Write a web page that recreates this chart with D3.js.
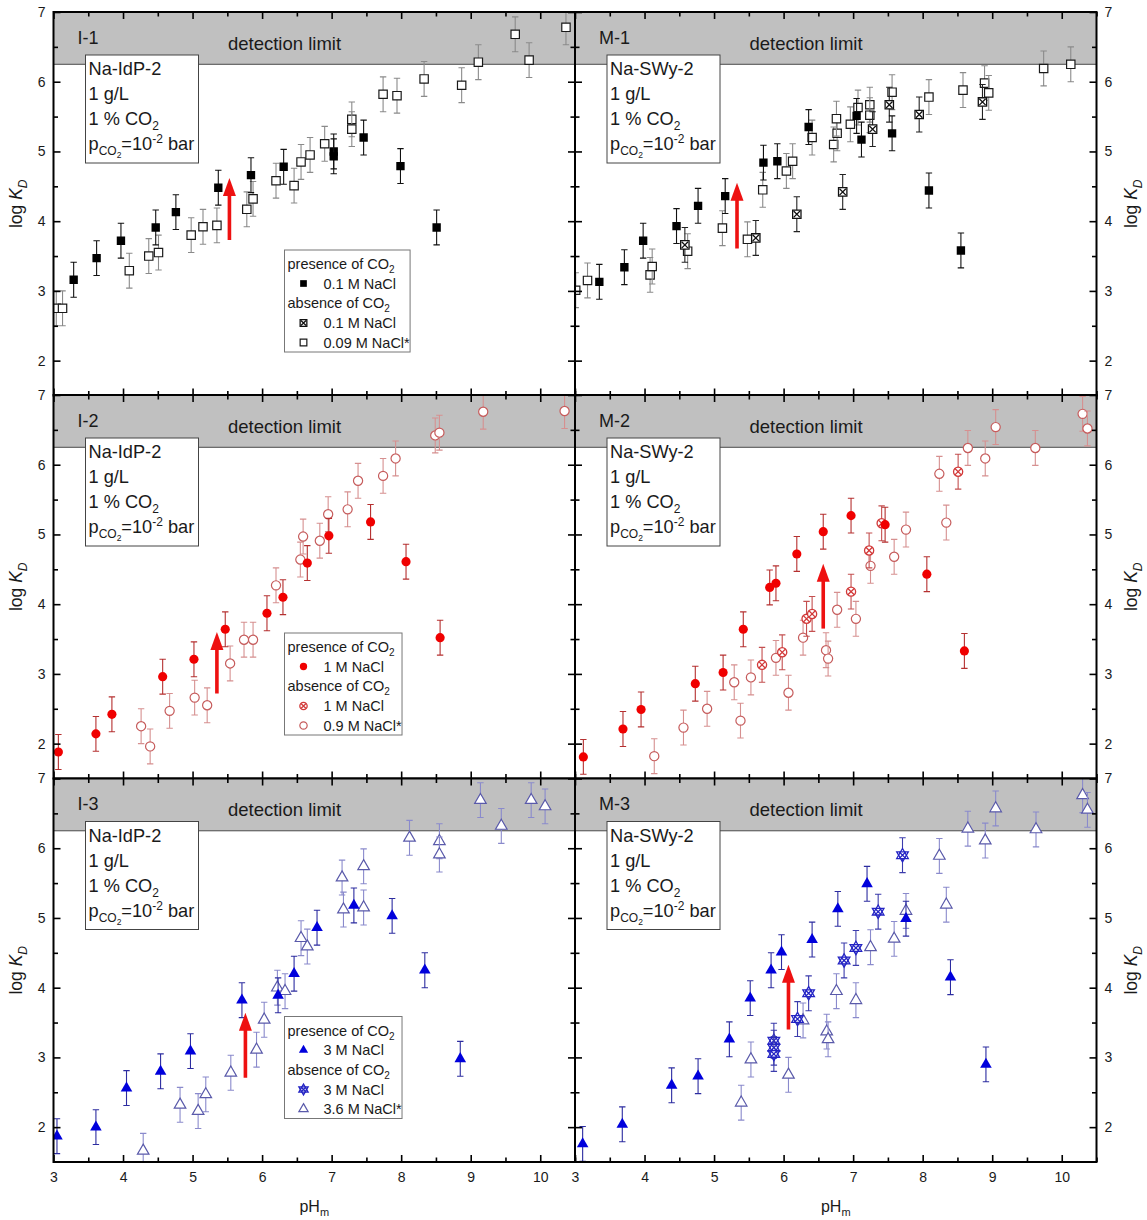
<!DOCTYPE html>
<html>
<head>
<meta charset="utf-8">
<script src="https://cdn.jsdelivr.net/npm/d3@7"></script>
<style>
  body { margin: 0; background: #fff; }
  svg { font-family: "Liberation Sans", Arial, sans-serif; }
</style>
</head>
<body>
<svg id="chart" width="1147" height="1220"></svg>
<script>
// [pH_m, log K_D]
// pres = presence of CO2, abs = absence of CO2 (same NaCl), absStar = absence of CO2 (NaCl*)
const i1Pres = [[3.29,3.16],[3.62,3.47],[3.97,3.72],[4.47,3.91],[4.76,4.13],[5.37,4.48],[5.84,4.66],[6.31,4.78],[7.03,5.0],[7.03,4.93],[7.46,5.20],[7.99,4.79],[8.51,3.91]];
const i1Abs = [];
const i1AbsStar = [[3.04,2.75],[3.13,2.75],[4.09,3.29],[4.37,3.50],[4.51,3.55],[4.98,3.80],[5.15,3.92],[5.35,3.94],[5.78,4.17],[5.87,4.32],[6.20,4.58],[6.46,4.51],[6.56,4.85],[6.69,4.95],[6.90,5.11],[7.29,5.46],[7.29,5.32],[7.74,5.82],[7.94,5.80],[8.33,6.04],[8.87,5.95],[9.11,6.28],[9.64,6.68],[9.84,6.31],[10.37,6.78]];

const m1Pres = [[3.35,3.13],[3.71,3.34],[3.98,3.72],[4.46,3.93],[4.77,4.22],[5.16,4.36],[5.71,4.84],[5.91,4.86],[6.36,5.35],[7.05,5.51],[7.12,5.17],[7.56,5.26],[8.09,4.44],[8.55,3.58]];
const m1Abs = [[4.58,3.66],[5.60,3.76],[6.19,4.10],[6.85,4.42],[7.28,5.32],[7.52,5.67],[7.95,5.53],[8.86,5.71]];
const m1AbsStar = [[3.01,3.01],[3.18,3.15],[4.08,3.23],[4.11,3.35],[4.62,3.57],[5.12,3.90],[5.48,3.74],[5.70,4.45],[6.04,4.72],[6.13,4.86],[6.41,5.20],[6.72,5.10],[6.77,5.26],[6.76,5.47],[6.96,5.39],[7.07,5.63],[7.24,5.67],[7.24,5.52],[7.56,5.85],[8.09,5.78],[8.58,5.88],[8.89,5.98],[8.95,5.84],[9.74,6.19],[10.13,6.25]];

const i2Pres = [[3.07,1.88],[3.61,2.14],[3.84,2.42],[4.57,2.96],[5.02,3.21],[5.47,3.64],[6.07,3.87],[6.30,4.10],[6.65,4.59],[6.96,4.98],[7.56,5.18],[8.07,4.61],[8.56,3.52]];
const i2Abs = [];
const i2AbsStar = [[4.26,2.25],[4.39,1.96],[4.67,2.47],[5.03,2.66],[5.21,2.55],[5.54,3.15],[5.74,3.49],[5.87,3.49],[6.20,4.27],[6.55,4.64],[6.59,4.97],[6.83,4.91],[6.95,5.29],[7.23,5.36],[7.38,5.77],[7.74,5.84],[7.92,6.09],[8.49,6.42],[8.55,6.46],[9.18,6.76],[10.35,6.77]];

const m2Pres = [[3.12,1.81],[3.69,2.21],[3.95,2.49],[4.73,2.86],[5.13,3.02],[5.42,3.64],[5.80,4.24],[5.89,4.30],[6.19,4.72],[6.57,5.04],[6.97,5.27],[7.46,5.14],[8.06,4.43],[8.60,3.33]];
const m2Abs = [[5.69,3.13],[5.98,3.31],[6.33,3.79],[6.41,3.86],[6.97,4.18],[7.23,4.77],[7.41,5.16],[8.51,5.90]];
const m2AbsStar = [[4.14,1.82],[4.56,2.23],[4.90,2.50],[5.29,2.88],[5.38,2.33],[5.53,2.95],[5.89,3.23],[6.07,2.73],[6.28,3.52],[6.61,3.34],[6.64,3.22],[6.77,3.92],[7.04,3.79],[7.25,4.55],[7.59,4.68],[7.76,5.07],[8.24,5.87],[8.34,5.17],[8.65,6.24],[8.90,6.09],[9.05,6.54],[9.62,6.24],[10.30,6.73],[10.37,6.52]];

const i3Pres = [[3.05,1.87],[3.61,2.00],[4.05,2.56],[4.54,2.80],[4.97,3.09],[5.71,3.82],[6.23,3.89],[6.46,4.20],[6.79,4.86],[7.32,5.18],[7.87,5.03],[8.34,4.25],[8.85,2.98]];
const i3Abs = [];
const i3AbsStar = [[4.29,1.66],[4.82,2.32],[5.08,2.23],[5.19,2.47],[5.55,2.78],[5.92,3.11],[6.03,3.54],[6.22,4.00],[6.33,3.95],[6.56,4.71],[6.65,4.59],[7.15,5.58],[7.17,5.12],[7.46,5.74],[7.46,5.15],[8.12,6.15],[8.55,6.10],[8.55,5.91],[9.14,6.69],[9.44,6.32],[9.87,6.69],[10.07,6.60]];

const m3Pres = [[3.11,1.76],[3.68,2.04],[4.39,2.60],[4.77,2.73],[5.22,3.26],[5.52,3.85],[5.82,4.25],[5.97,4.51],[6.41,4.69],[6.78,5.13],[7.20,5.49],[7.76,4.99],[8.40,4.15],[8.91,2.90]];
const m3Abs = [[5.86,3.24],[5.86,3.14],[5.86,3.05],[6.20,3.55],[6.36,3.92],[6.87,4.39],[7.04,4.57],[7.36,5.09],[7.71,5.90]];
const m3AbsStar = [[5.39,2.35],[5.53,2.97],[6.07,2.75],[6.28,3.53],[6.62,3.37],[6.64,3.26],[6.76,3.95],[7.04,3.82],[7.25,4.58],[7.59,4.70],[7.76,5.10],[8.24,5.89],[8.34,5.19],[8.65,6.28],[8.90,6.11],[9.05,6.57],[9.63,6.27],[10.30,6.76],[10.37,6.55]];

const errBar = 0.25;            // +/- on log K_D
const detectionLimit = 6.25;
const pHDomain = [3, 10.5];
const logDomain = [1.5, 7];

// red arrows, per panel (I-1, M-1, I-2, M-2, I-3, M-3)
const arrowPH = [5.53, 5.33, 5.35, 6.57, 5.76, 6.07];
const arrowFrom = [3.73, 3.61, 2.72, 3.65, 2.71, 3.40];
const arrowTo = [4.62, 4.55, 3.60, 4.58, 3.64, 4.33];

const panelNames = ["I-1", "M-1", "I-2", "M-2", "I-3", "M-3"];
const clayNames = ["Na-IdP-2", "Na-SWy-2"];
const legendSalt1 = ["0.1 M NaCl", "0.1 M NaCl", "0.09 M NaCl*"];
const legendSalt2 = ["1 M NaCl", "1 M NaCl", "0.9 M NaCl*"];
const legendSalt3 = ["3 M NaCl", "3 M NaCl", "3.6 M NaCl*"];

const panels = [
  { pres: i1Pres, abs: i1Abs, absStar: i1AbsStar, fam: 0, legend: legendSalt1 },
  { pres: m1Pres, abs: m1Abs, absStar: m1AbsStar, fam: 0 },
  { pres: i2Pres, abs: i2Abs, absStar: i2AbsStar, fam: 1, legend: legendSalt2 },
  { pres: m2Pres, abs: m2Abs, absStar: m2AbsStar, fam: 1 },
  { pres: i3Pres, abs: i3Abs, absStar: i3AbsStar, fam: 2, legend: legendSalt3 },
  { pres: m3Pres, abs: m3Abs, absStar: m3AbsStar, fam: 2 }
];

// marker colours per family (squares/black, circles/red, triangles/blue)
const styles = [
  { pres: { c: "#000", e: "#111" }, abs: { c: "#111", e: "#222" }, absStar: { c: "#1a1a1a", e: "#8a8a8a" } },
  { pres: { c: "#f00000", e: "#b53030" }, abs: { c: "#d23a3a", e: "#c45050" }, absStar: { c: "#c65c5c", e: "#d69090" } },
  { pres: { c: "#0000dc", e: "#2c2ca0" }, abs: { c: "#2424c4", e: "#3c3cac" }, absStar: { c: "#5a5aaa", e: "#8a8acc" } }
];
const shapes = [d3.symbolSquare, d3.symbolCircle, d3.symbolTriangle];
const shapeSize = [70, 66, 58];

const panelW = 521.5, panelH = 383.5;
const colX = [53.5, 575], rowY = [12, 395, 778.5];

const x = d3.scaleLinear().domain(pHDomain).range([0, panelW]);
const y = d3.scaleLinear().domain(logDomain).range([panelH, 0]);

const svg = d3.select("#chart");
const defs = svg.append("defs");

function drawMarker(g, fam, kind, k) {
  const st = styles[fam][kind];
  const size = shapeSize[fam] * k * k;
  const sym = d3.symbol().type(shapes[fam]).size(size);
  const h = 3.2 * k;
  if (kind === "pres") {
    g.append("path").attr("d", sym()).attr("fill", st.c);
  } else if (kind === "absStar") {
    g.append("path").attr("d", sym()).attr("fill", "#fff").attr("stroke", st.c).attr("stroke-width", 1.2);
  } else if (fam === 2) {
    // crossed triangles: up + down + x
    g.append("path").attr("d", sym()).attr("fill", "#fff").attr("stroke", st.c).attr("stroke-width", 1.3);
    g.append("path").attr("d", sym()).attr("transform", "rotate(180)").attr("fill", "none").attr("stroke", st.c).attr("stroke-width", 1.3);
    g.append("path").attr("d", `M${-h},${-h}L${h},${h}M${-h},${h}L${h},${-h}`).attr("stroke", st.c).attr("stroke-width", 1.3);
  } else {
    g.append("path").attr("d", sym()).attr("fill", "#fff").attr("stroke", st.c).attr("stroke-width", 1.3);
    g.append("path").attr("d", `M${-h},${-h}L${h},${h}M${-h},${h}L${h},${-h}`).attr("stroke", st.c).attr("stroke-width", 1.3);
  }
}

function subText(t, parts) {
  // parts: [text, size, dy]
  parts.forEach(([s, fs, dy]) => {
    t.append("tspan").text(s).attr("font-size", fs).attr("dy", dy);
  });
}

const majorX = d3.range(3, 10.6, 1), minorX = d3.range(3.5, 10.6, 1);
const majorY = d3.range(2, 7.1, 1), minorY = d3.range(2.5, 7, 1);
const boxFont = 18.2, legFont = 14.5;

panels.forEach((p, i) => {
  const col = i % 2, row = Math.floor(i / 2);
  const g = svg.append("g").attr("transform", `translate(${colX[col]},${rowY[row]})`);

  defs.append("clipPath").attr("id", "clip" + i)
    .append("rect").attr("width", panelW).attr("height", panelH);
  const plot = g.append("g").attr("clip-path", `url(#clip${i})`);

  // detection limit band
  plot.append("rect")
    .attr("x", 0).attr("y", y(7))
    .attr("width", panelW).attr("height", y(detectionLimit) - y(7))
    .attr("fill", "#c0c0c0");
  plot.append("line")
    .attr("x1", 0).attr("x2", panelW)
    .attr("y1", y(detectionLimit)).attr("y2", y(detectionLimit))
    .attr("stroke", "#4a4a4a").attr("stroke-width", 1);

  g.append("text").attr("x", 24).attr("y", 31.5).attr("font-size", 18).attr("fill", "#1a1a1a").text(panelNames[i]);
  g.append("text").attr("x", 231).attr("y", 37.5).attr("font-size", 18.5).attr("fill", "#1a1a1a")
    .attr("text-anchor", "middle").text("detection limit");

  // data
  ["absStar", "abs", "pres"].forEach(kind => {
    const st = styles[p.fam][kind];
    const pts = plot.append("g").selectAll("g").data(p[kind]).join("g")
      .attr("transform", d => `translate(${x(d[0])},${y(d[1])})`);
    pts.append("path")
      .attr("d", d => {
        const t = y(d[1] + errBar) - y(d[1]);
        const b = y(d[1] - errBar) - y(d[1]);
        return `M0,${t}V${b}M-3.2,${t}H3.2M-3.2,${b}H3.2`;
      })
      .attr("stroke", st.e).attr("stroke-width", 1.1).attr("fill", "none");
    pts.each(function () { drawMarker(d3.select(this), p.fam, kind, 1); });
  });

  // red arrow
  const ax = x(arrowPH[i]), ay0 = y(arrowFrom[i]), ay1 = y(arrowTo[i]);
  plot.append("line").attr("x1", ax).attr("x2", ax).attr("y1", ay0).attr("y2", ay1 + 14)
    .attr("stroke", "#ee1111").attr("stroke-width", 3.6);
  plot.append("path")
    .attr("d", `M${ax - 6.5},${ay1 + 18}L${ax},${ay1}L${ax + 6.5},${ay1 + 18}Z`)
    .attr("fill", "#ee1111");

  // info box
  const box = g.append("g").attr("transform", "translate(32,43)");
  box.append("rect").attr("width", 113).attr("height", 108).attr("fill", "#fff").attr("stroke", "#444").attr("stroke-width", 1);
  const tb = box.append("text").attr("font-size", boxFont).attr("fill", "#1a1a1a");
  tb.append("tspan").attr("x", 3).attr("y", 20).text(clayNames[col]);
  tb.append("tspan").attr("x", 3).attr("y", 45).text("1 g/L");
  const l3 = box.append("text").attr("x", 3).attr("y", 70).attr("font-size", boxFont).attr("fill", "#1a1a1a");
  subText(l3, [["1 % CO", boxFont, 0], ["2", 12, 5]]);
  const l4 = box.append("text").attr("x", 3).attr("y", 95).attr("font-size", boxFont).attr("fill", "#1a1a1a");
  subText(l4, [["p", boxFont, 0], ["CO", 12, 5], ["2", 8.5, 3], ["=10", boxFont, -8], ["-2", 12, -7], [" bar", boxFont, 7]]);

  // legend (left column only)
  if (p.legend) {
    const lg = g.append("g").attr("transform", "translate(231,238)");
    const frame = lg.append("rect").attr("height", 102).attr("fill", "#fff").attr("stroke", "#777").attr("stroke-width", 1);
    const h1 = lg.append("text").attr("x", 3).attr("y", 19).attr("font-size", legFont).attr("fill", "#1a1a1a");
    subText(h1, [["presence of CO", legFont, 0], ["2", 10, 4]]);
    const h2 = lg.append("text").attr("x", 3).attr("y", 58).attr("font-size", legFont).attr("fill", "#1a1a1a");
    subText(h2, [["absence of CO", legFont, 0], ["2", 10, 4]]);
    const rowsY = [33.5, 73, 92.5];
    const kinds = ["pres", "abs", "absStar"];
    kinds.forEach((kind, j) => {
      const mg = lg.append("g").attr("transform", `translate(19,${rowsY[j]})`);
      drawMarker(mg, p.fam, kind, 0.8);
      lg.append("text").attr("x", 39).attr("y", rowsY[j] + 5).attr("font-size", legFont).attr("fill", "#1a1a1a").text(p.legend[j]);
    });
    const bb = lg.node().getBBox();
    frame.attr("width", bb.width + 3);
  }

  // frame
  g.append("rect").attr("width", panelW).attr("height", panelH)
    .attr("fill", "none").attr("stroke", "#000").attr("stroke-width", 2);

  const noLab = () => "";
  function styleAxis(a) {
    a.select(".domain").remove();
    a.attr("font-size", 14).attr("font-family", "Liberation Sans, Arial, sans-serif");
    a.selectAll(".tick line").attr("stroke-width", 1.6);
    a.selectAll(".tick text").attr("fill", "#1a1a1a");
  }
  // x axes
  styleAxis(g.append("g").attr("transform", `translate(0,${panelH})`)
    .call(d3.axisBottom(x).tickValues(majorX).tickSizeInner(-7).tickSizeOuter(0).tickPadding(10)
      .tickFormat(row === 2 ? d3.format("d") : noLab)));
  styleAxis(g.append("g").attr("transform", `translate(0,${panelH})`)
    .call(d3.axisBottom(x).tickValues(minorX).tickSizeInner(-4.5).tickSizeOuter(0).tickFormat(noLab)));
  styleAxis(g.append("g")
    .call(d3.axisTop(x).tickValues(majorX).tickSizeInner(-7).tickSizeOuter(0).tickFormat(noLab)));
  styleAxis(g.append("g")
    .call(d3.axisTop(x).tickValues(minorX).tickSizeInner(-4.5).tickSizeOuter(0).tickFormat(noLab)));
  // y axes
  styleAxis(g.append("g")
    .call(d3.axisLeft(y).tickValues(majorY).tickSizeInner(-7).tickSizeOuter(0).tickPadding(8)
      .tickFormat(col === 0 ? d3.format("d") : noLab)));
  styleAxis(g.append("g")
    .call(d3.axisLeft(y).tickValues(minorY).tickSizeInner(-4.5).tickSizeOuter(0).tickFormat(noLab)));
  styleAxis(g.append("g").attr("transform", `translate(${panelW},0)`)
    .call(d3.axisRight(y).tickValues(majorY).tickSizeInner(-7).tickSizeOuter(0).tickPadding(8)
      .tickFormat(col === 1 ? d3.format("d") : noLab)));
  styleAxis(g.append("g").attr("transform", `translate(${panelW},0)`)
    .call(d3.axisRight(y).tickValues(minorY).tickSizeInner(-4.5).tickSizeOuter(0).tickFormat(noLab)));

  // axis titles
  const ly = rowY[row] + panelH / 2;
  const lx = col === 0 ? 22 : 1137;
  const lt = svg.append("text").attr("transform", `translate(${lx},${ly}) rotate(-90)`)
    .attr("text-anchor", "middle").attr("font-size", 17.5).attr("fill", "#1a1a1a");
  lt.append("tspan").text("log ");
  lt.append("tspan").text("K").attr("font-style", "italic");
  lt.append("tspan").text("D").attr("font-style", "italic").attr("font-size", 12).attr("dy", 5);

  if (row === 2) {
    const pt = svg.append("text").attr("x", colX[col] + panelW / 2).attr("y", 1212)
      .attr("text-anchor", "middle").attr("font-size", 16).attr("fill", "#1a1a1a");
    pt.append("tspan").text("pH");
    pt.append("tspan").text("m").attr("font-size", 11).attr("dy", 4);
  }
});
</script>
</body>
</html>
